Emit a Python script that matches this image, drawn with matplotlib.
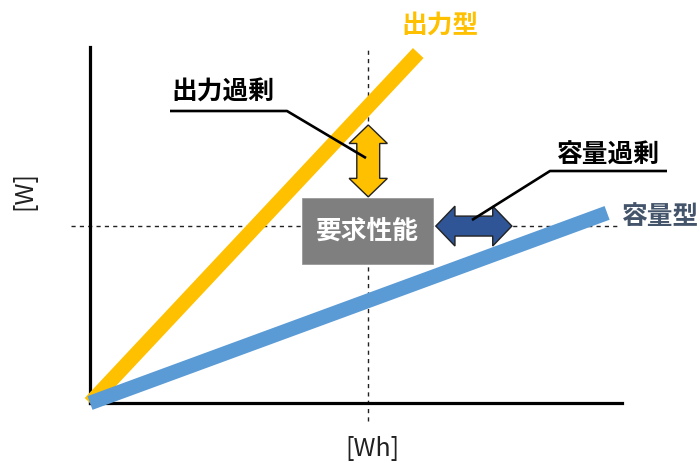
import matplotlib
matplotlib.use("Agg")
import matplotlib.pyplot as plt
from matplotlib.patches import Polygon, Rectangle

plt.rcParams['font.family'] = ['Noto Sans CJK JP', 'DejaVu Sans']

# Conceptual chart: power [W] vs. capacity [Wh]
W, H = 700, 463
ORANGE = '#FFC000'
BLUE = '#5B9BD5'
NAVY = '#2F5597'
SLATE = '#44546A'
GRAY = '#7F7F7F'

# battery types: end point of each characteristic line (origin at 0, 0)
types = ['出力型', '容量型']
type_x_end = [6.17, 9.72]
type_y_end = [9.83, 5.34]
type_colors = [ORANGE, BLUE]

# required performance point
req_label = '要求性能'
req_x, req_y = 5.23, 4.97

# excess annotations
excess_labels = ['出力過剰', '容量過剰']
power_excess_y = [7.81, 5.79]     # vertical double arrow span (W)
capacity_excess_x = [6.50, 7.93]  # horizontal double arrow span (Wh)

x_label = '[Wh]'
y_label = '[W]'

fig = plt.figure(figsize=(W / 100, H / 100), dpi=100)
ax = fig.add_axes([90 / W, (H - 403) / H, (622 - 90) / W, (403 - 47) / H])
ax.set_xlim(0, 10)
ax.set_ylim(0, 10)
ax.set_xticks([])
ax.set_yticks([])
for s in ['top', 'right']:
    ax.spines[s].set_visible(False)
for s in ['left', 'bottom']:
    ax.spines[s].set_linewidth(2.3)
    ax.spines[s].set_color('black')
    ax.spines[s].set_zorder(1)

# guide lines through the required point
ax.plot([req_x, req_x], [-0.5, 10], ls=(0, (3, 3)), color='#222222', lw=1.0,
        clip_on=False, zorder=1)
ax.plot([-0.35, 9.9], [req_y, req_y], ls=(0, (3, 3)), color='#222222', lw=1.0,
        clip_on=False, zorder=1)

# characteristic lines
for xe, ye, c, z in zip(type_x_end, type_y_end, type_colors, [2, 3]):
    ax.plot([0, xe], [0, ye], color=c, lw=10.5, solid_capstyle='butt',
            clip_on=False, zorder=z)

# required performance box
bw, bh = 2.47, 1.86
ax.add_patch(Rectangle((req_x - 1.25, req_y - 1.07), bw, bh, facecolor=GRAY,
                       edgecolor='#9a9a9a', lw=0.6, zorder=4))
ax.text(req_x - 1.25 + bw / 2, req_y - 1.07 + bh / 2, req_label, color='white',
        fontsize=18.5, fontweight='bold', ha='center', va='center', zorder=5)


def double_arrow(a0, a1, c, shaft, head_w, head_l, vertical):
    """Double-headed block arrow along one axis, from a0 to a1 at cross position c."""
    lo, hi = min(a0, a1), max(a0, a1)
    s, h = shaft / 2, head_w / 2
    pts = [(lo, c), (lo + head_l, c + h), (lo + head_l, c + s), (hi - head_l, c + s),
           (hi - head_l, c + h), (hi, c), (hi - head_l, c - h), (hi - head_l, c - s),
           (lo + head_l, c - s), (lo + head_l, c - h)]
    if vertical:
        pts = [(q, p) for p, q in pts]
    return pts


ax.add_patch(Polygon(double_arrow(power_excess_y[1], power_excess_y[0], req_x,
                                  0.43, 0.72, 0.52, True),
                     closed=True, facecolor=ORANGE, edgecolor='#222222', lw=1.0, zorder=5))
ax.add_patch(Polygon(double_arrow(capacity_excess_x[0], capacity_excess_x[1], req_y,
                                  0.56, 1.12, 0.36, False),
                     closed=True, facecolor=NAVY, edgecolor='#222222', lw=1.0, zorder=5))


def px(x, y):
    """Pixel position (from top-left) to figure fraction."""
    return x / W, 1 - y / H


# leader lines with underlined labels
for pts in ([(170, 111), (287, 111), (366, 158)],
            [(667, 171), (550, 171), (472, 220)]):
    xs = [px(*p)[0] for p in pts]
    ys = [px(*p)[1] for p in pts]
    fig.add_artist(plt.Line2D(xs, ys, color='black', lw=1.9, zorder=6,
                              solid_capstyle='butt'))

fig.text(*px(223, 92), excess_labels[0], fontsize=18.5, fontweight='bold',
         ha='center', va='center')
fig.text(*px(608, 155), excess_labels[1], fontsize=18.5, fontweight='bold',
         ha='center', va='center')

# series labels
fig.text(*px(440, 25), types[0], fontsize=18.5, fontweight='bold', color=ORANGE,
         ha='center', va='center')
fig.text(*px(661, 216), types[1], fontsize=18.5, fontweight='bold', color=SLATE,
         ha='center', va='center')

# axis labels
fig.text(*px(372, 449), x_label, fontsize=18, ha='center', va='center', color='#222222')
fig.text(*px(24, 191), y_label, fontsize=18, ha='center', va='center', rotation=90,
         color='#222222')

fig.savefig('out.png', dpi=100)
